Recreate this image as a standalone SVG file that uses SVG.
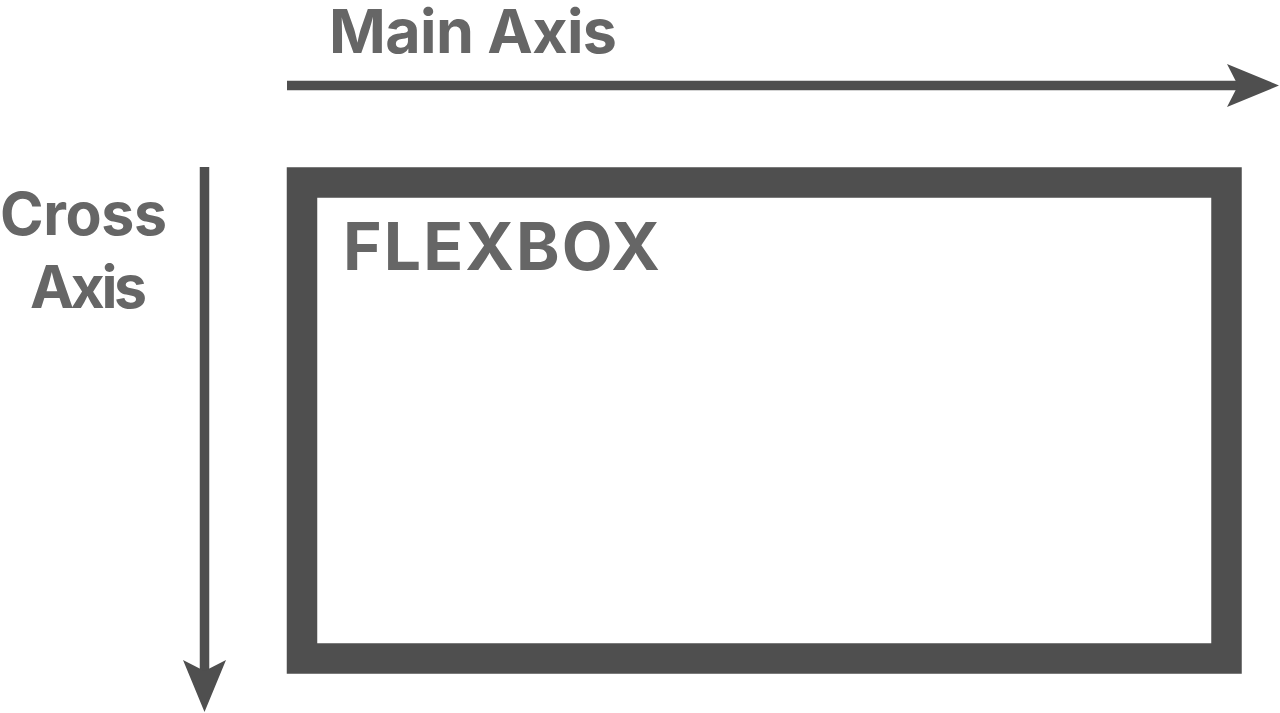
<svg xmlns="http://www.w3.org/2000/svg" width="1280" height="713" viewBox="0 0 1280 713">
  <style>
    .lbl { font-family: Inter, "Noto Sans", "Liberation Sans", sans-serif; font-weight: 700; fill: #666666; }
    .axis { stroke: #4f4f4f; stroke-width: 9.5; fill: none; }
    .box { fill: none; stroke: #4f4f4f; stroke-width: 30.5; }
  </style>
  <defs>
    <marker id="head" viewBox="0 0 52 43" refX="13" refY="21.5" markerWidth="52" markerHeight="43" markerUnits="userSpaceOnUse" orient="auto">
      <path d="M0,0 L52,21.5 L0,43 L11,21.5 Z" fill="#4f4f4f"/>
    </marker>
  </defs>
  <rect width="1280" height="713" fill="#ffffff"/>

  <g id="connectors">
    <line id="main-axis-arrow" class="axis" x1="287" y1="85.5" x2="1240" y2="85.5" marker-end="url(#head)"/>
    <line id="cross-axis-arrow" class="axis" x1="204.5" y1="167" x2="204.5" y2="673" marker-end="url(#head)"/>
  </g>

  <g id="main-axis-label">
    <text class="lbl" x="329" y="53" font-size="61" textLength="288" lengthAdjust="spacing">Main Axis</text>
  </g>

  <g id="cross-axis-label">
    <text class="lbl" x="0" y="235" font-size="59" textLength="167" lengthAdjust="spacing">Cross</text>
    <text class="lbl" x="30" y="308" font-size="59" textLength="117" lengthAdjust="spacing">Axis</text>
  </g>

  <g id="flexbox">
    <rect class="box" x="302" y="182.5" width="924.5" height="476"/>
    <text class="lbl" x="343" y="270" font-size="66" textLength="317" lengthAdjust="spacing">FLEXBOX</text>
  </g>
</svg>
